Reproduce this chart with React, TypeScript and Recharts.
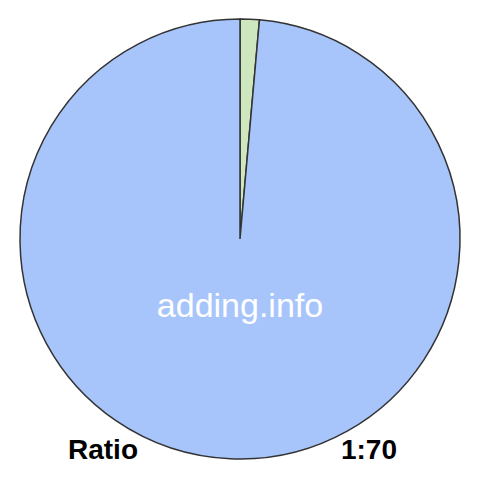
import React from 'react';
import { PieChart, Pie, Cell } from 'recharts';

const sliceNames = ['1', '70'];
const sliceValues = [1, 70];
const sliceColors = ['#cfe7bf', '#a7c5fb'];
const watermark = 'adding.info';
const leftLabel = 'Ratio';
const rightLabel = '1:70';

const data = sliceNames.map((name, i) => ({ name, value: sliceValues[i] }));

export default function App() {
  return (
    <div style={{ position: 'relative', width: 480, height: 480, background: '#fff' }}>
      <style>{`body{margin:0}`}</style>
      <PieChart width={480} height={480} margin={{ top: 0, right: 0, bottom: 0, left: 0 }}>
        <Pie
          data={data}
          dataKey="value"
          nameKey="name"
          cx={240}
          cy={239}
          outerRadius={220}
          startAngle={90}
          endAngle={-270}
          stroke="#333"
          strokeWidth={1.5}
          isAnimationActive={false}
        >
          {data.map((entry, index) => (
            <Cell key={`cell-${index}`} fill={sliceColors[index]} />
          ))}
        </Pie>
      </PieChart>
      <svg width={480} height={480} style={{ position: 'absolute', left: 0, top: 0, pointerEvents: 'none' }}>
        <text x={240} y={317} textAnchor="middle" fill="#fff" fontFamily="'Liberation Sans', Arial, sans-serif" fontSize={34}>
          {watermark}
        </text>
        <text x={68} y={459} fill="#000" fontWeight="bold" fontFamily="'Liberation Sans', Arial, sans-serif" fontSize={28}>
          {leftLabel}
        </text>
        <text x={397} y={459} textAnchor="end" fill="#000" fontWeight="bold" fontFamily="'Liberation Sans', Arial, sans-serif" fontSize={28}>
          {rightLabel}
        </text>
      </svg>
    </div>
  );
}
